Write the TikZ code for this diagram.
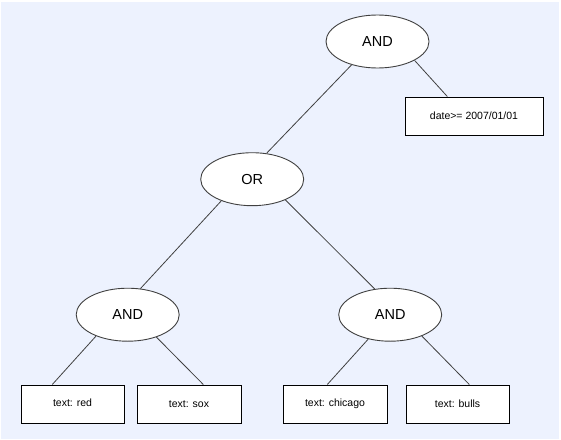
\documentclass[tikz,border=0pt]{standalone}
\usepackage{fontspec}
\setmainfont{Liberation Sans}
\usetikzlibrary{shapes.geometric}
\definecolor{bgblue}{RGB}{237,242,254}
\definecolor{edgegray}{RGB}{64,64,64}
\tikzset{
  opnode/.style={ellipse, draw=edgegray, line width=0.9pt, fill=white, minimum width=103pt, minimum height=53pt, inner sep=0pt, font=\fontsize{14.5}{16}\selectfont},
  leafbox/.style={rectangle, draw=black, line width=1pt, fill=white, minimum height=38pt, inner sep=0pt, font=\fontsize{10.5}{12}\selectfont},
  link/.style={draw=edgegray, line width=0.8pt}
}
\begin{document}
\begin{tikzpicture}[x=1pt,y=-1pt]
\useasboundingbox (0,0) rectangle (561,439);
\fill[bgblue] (1,2) rectangle (559,439);
% operator nodes
\node[opnode] (and1) at (377.5,41.5) {AND};
\node[opnode] (or) at (252.2,179.2) {OR};
\node[opnode] (and2) at (127.7,314.7) {AND};
\node[opnode] (and3) at (390.2,314.7) {AND};
% leaf boxes
\node[leafbox, minimum width=138pt] (date) at (474,116) {date>= 2007/01/01};
\node[leafbox, minimum width=103pt] (red) at (72.5,404) {\raisebox{2pt}{text: red}};
\node[leafbox, minimum width=104pt] (sox) at (189,404) {text: sox};
\node[leafbox, minimum width=104pt] (chicago) at (335,404) {text: chicago};
\node[leafbox, minimum width=103pt] (bulls) at (457.5,404) {text: bulls};
% connectors
\draw[link] (and1.222) -- (or.61.6);
\draw[link] (and1.333) -- ([xshift=-26.7pt]date.north);
\draw[link] (or.215) -- (and2.64.4);
\draw[link] (or.328) -- (and3.121);
\draw[link] (and2.214.4) -- ([xshift=-20.2pt]red.north);
\draw[link] (and2.322) -- ([xshift=14.3pt]sox.north);
\draw[link] (and3.228.7) -- ([xshift=-7.7pt]chicago.north);
\draw[link] (and3.326) -- ([xshift=11.8pt]bulls.north);
\end{tikzpicture}
\end{document}
